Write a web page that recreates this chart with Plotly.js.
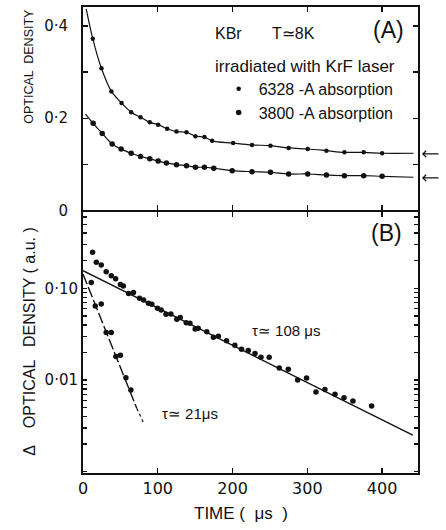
<!DOCTYPE html>
<html>
<head>
<meta charset="utf-8">
<script src="https://cdn.plot.ly/plotly-3.0.1.min.js"></script>
<style>html,body{margin:0;padding:0;background:#fff;}#chart{width:446px;height:530px;}</style>
</head>
<body>
<div id="chart"></div>
<script>
// ---------- Panel A : optical density vs time ----------
// 6328-A absorption (measured points)
const t6328 = [13.1, 24.7, 38, 51.5, 64.4, 76.9, 89.3, 100.5, 112.5, 125, 138.4, 150.4, 162.4, 172.7, 200.8, 226, 250.7, 275, 300.5, 325.5, 349.6, 375.4, 400];
const od6328 = [0.372, 0.308, 0.258, 0.233, 0.213, 0.202, 0.191, 0.186, 0.177, 0.171, 0.1695, 0.161, 0.159, 0.151, 0.146, 0.142, 0.1405, 0.1355, 0.1333, 0.1297, 0.126, 0.126, 0.124];
// curve ends
const curve6328Start = [4.3, 0.437];
const curve6328End = [442, 0.124];

// 3800-A absorption (measured points)
const t3800 = [13.6, 25.7, 39, 51, 64.4, 76.9, 89.3, 100.5, 111.6, 125, 138.4, 150.4, 162.4, 174.9, 199.5, 226, 250.7, 275, 300.5, 325.5, 349.6, 375.4, 400];
const od3800 = [0.189, 0.167, 0.144, 0.133, 0.124, 0.117, 0.112, 0.107, 0.103, 0.0993, 0.0971, 0.0937, 0.0937, 0.0915, 0.0863, 0.0841, 0.0828, 0.0791, 0.0791, 0.077, 0.0755, 0.0755, 0.0741];
const curve3800Start = [3.3, 0.209];
const curve3800End = [442, 0.072];

// asymptote arrows (OD values pointed at)
const arrowOD = [0.1225, 0.0705];

// ---------- Panel B : delta optical density (log) ----------
const tSlow = [12.8, 17.8, 24.4, 31, 37.8, 43.6, 50, 54, 61, 67.5, 75.6, 81, 87.6, 92, 99.6, 104.5, 111, 117.5, 125.5, 130, 138, 143, 150, 154, 165.5, 174.4, 181, 192, 203, 212, 221, 230, 238, 249, 262.5, 274.5, 287, 299, 311.5, 323.5, 337, 349, 361, 386];
const odSlow = [0.247, 0.192, 0.180, 0.152, 0.137, 0.127, 0.110, 0.106, 0.088, 0.090, 0.078, 0.0745, 0.0686, 0.067, 0.0605, 0.058, 0.052, 0.0524, 0.046, 0.048, 0.042, 0.0415, 0.036, 0.0366, 0.0336, 0.0292, 0.030, 0.0268, 0.024, 0.0216, 0.021, 0.0195, 0.0177, 0.0177, 0.0135, 0.0131, 0.0100, 0.0105, 0.0074, 0.0079, 0.0070, 0.0064, 0.0059, 0.0052];
const tFast = [11, 16.4, 24.4, 31, 37.8, 44, 50, 57.4, 64];
const odFast = [0.116, 0.064, 0.0675, 0.033, 0.033, 0.018, 0.0186, 0.0106, 0.0078];

// fitted exponentials (end points)
const slowFitT = [0, 441];
const slowFitOD = [0.156, 0.0025];
const fastFitT = [0, 72];
const fastFitOD = [0.143, 0.0049];
const fastDotT = [72, 81];
const fastDotOD = [0.0049, 0.0034];

// ---------- ticks ----------
const xTickVals = [0, 100, 200, 300, 400];
const xTickText = ['0', '100', '200', '300', '400'];
const aTickVals = [0, 0.1, 0.2, 0.3, 0.4];
const aTickText = ['0', '', '0·2', '', '0·4'];
const bTickVals = [0.001,0.002,0.003,0.004,0.005,0.006,0.007,0.008,0.009,
                   0.01,0.02,0.03,0.04,0.05,0.06,0.07,0.08,0.09,
                   0.1,0.2,0.3,0.4,0.5,0.6];
const bTickText = bTickVals.map(v => v === 0.01 ? '0·01' : (v === 0.1 ? '0·10' : ''));

const labels = {
  seriesA1: '6328 -A absorption',
  seriesA2: '3800 -A absorption',
  yA: 'OPTICAL  DENSITY',
  yB: 'Δ    OPTICAL   DENSITY ( a.u. )',
  x: 'TIME (  μs  )',
  sample: 'KBr',
  temp: 'T≃8K',
  irr: 'irradiated with KrF laser',
  panelA: '(A)',
  panelB: '(B)',
  tauSlow: 'τ≃ 108 μs',
  tauFast: 'τ≃ 21μs'
};

const BLACK = '#111111';
const FONT = 'Liberation Sans, Arial, sans-serif';
const H = 466;              // plot-area height in px
const SPLIT = 0.5612;       // boundary between the two panels (paper fraction)

const traces = [
  // Panel A curves
  {x: [curve6328Start[0]].concat(t6328, [curve6328End[0]]),
   y: [curve6328Start[1]].concat(od6328, [curve6328End[1]]),
   xaxis: 'x2', yaxis: 'y2', mode: 'lines', line: {color: BLACK, width: 1.2, shape: 'spline'},
   showlegend: false, hoverinfo: 'skip'},
  {x: [curve3800Start[0]].concat(t3800, [curve3800End[0]]),
   y: [curve3800Start[1]].concat(od3800, [curve3800End[1]]),
   xaxis: 'x2', yaxis: 'y2', mode: 'lines', line: {color: BLACK, width: 1.2, shape: 'spline'},
   showlegend: false, hoverinfo: 'skip'},
  {x: t6328, y: od6328, xaxis: 'x2', yaxis: 'y2', mode: 'markers', name: labels.seriesA1,
   marker: {color: BLACK, size: 4.5}},
  {x: t3800, y: od3800, xaxis: 'x2', yaxis: 'y2', mode: 'markers', name: labels.seriesA2,
   marker: {color: BLACK, size: 5.5}},
  // Panel B
  {x: slowFitT, y: slowFitOD, xaxis: 'x', yaxis: 'y', mode: 'lines',
   line: {color: BLACK, width: 1.4}, showlegend: false},
  {x: fastFitT, y: fastFitOD, xaxis: 'x', yaxis: 'y', mode: 'lines',
   line: {color: BLACK, width: 1.4, dash: '11px,3px'}, showlegend: false},
  {x: fastDotT, y: fastDotOD, xaxis: 'x', yaxis: 'y', mode: 'lines',
   line: {color: BLACK, width: 1.2, dash: 'dot'}, showlegend: false},
  {x: tSlow, y: odSlow, xaxis: 'x', yaxis: 'y', mode: 'markers',
   marker: {color: BLACK, size: 5.5}, showlegend: false},
  {x: tFast, y: odFast, xaxis: 'x', yaxis: 'y', mode: 'markers',
   marker: {color: BLACK, size: 5.5}, showlegend: false}
];

const axisCommon = {
  showline: true, linecolor: BLACK, linewidth: 2, mirror: 'allticks',
  ticks: 'inside', ticklen: 5, tickwidth: 1.4, tickcolor: BLACK,
  showgrid: false, zeroline: false, fixedrange: true
};

const layout = {
  width: 446, height: 530,
  margin: {l: 83, r: 28, t: 7, b: 57, pad: 0},
  paper_bgcolor: '#ffffff', plot_bgcolor: '#ffffff',
  font: {family: FONT, color: BLACK},
  showlegend: true,
  legend: {x: 0.405, xanchor: 'left', y: 0.861, yanchor: 'top',
           bgcolor: 'rgba(0,0,0,0)', borderwidth: 0,
           font: {family: FONT, size: 16, color: BLACK}, tracegroupgap: 0},
  xaxis: Object.assign({}, axisCommon, {
    domain: [0, 1], anchor: 'y', range: [0, 448],
    tickmode: 'array', tickvals: xTickVals, ticktext: xTickText,
    tickfont: {family: 'DejaVu Sans, sans-serif', size: 16, color: BLACK}
  }),
  yaxis: Object.assign({}, axisCommon, {
    domain: [0, SPLIT - 1 / H], anchor: 'x', type: 'log', range: [-3.014, -0.173],
    tickmode: 'array', tickvals: bTickVals, ticktext: bTickText, ticklen: 4,
    tickfont: {family: 'DejaVu Sans, sans-serif', size: 15, color: BLACK}
  }),
  xaxis2: Object.assign({}, axisCommon, {
    domain: [0, 1], anchor: 'y2', range: [0, 448], matches: 'x',
    tickmode: 'array', tickvals: xTickVals, showticklabels: false
  }),
  yaxis2: Object.assign({}, axisCommon, {
    domain: [SPLIT + 1 / H, 1], anchor: 'x2', range: [0, 0.441],
    tickmode: 'array', tickvals: aTickVals, ticktext: aTickText, ticklabelstandoff: 10,
    tickfont: {family: 'DejaVu Sans, sans-serif', size: 15, color: BLACK}
  }),
  annotations: [
    {xref: 'paper', yref: 'paper', x: -0.162, y: (473 - 66) / H, text: labels.yA, textangle: -90,
     showarrow: false, font: {family: FONT, size: 12.5, color: BLACK}, xanchor: 'center', yanchor: 'middle'},
    {xref: 'paper', yref: 'paper', x: -0.162, y: (473 - 341) / H, text: labels.yB, textangle: -90,
     showarrow: false, font: {family: FONT, size: 16, color: BLACK}, xanchor: 'center', yanchor: 'middle'},
    {xref: 'paper', yref: 'paper', x: 0.4716, y: -0.086, text: labels.x,
     showarrow: false, font: {family: FONT, size: 17, color: BLACK}, xanchor: 'center', yanchor: 'middle'},
    {xref: 'paper', yref: 'paper', x: (228 - 83) / 335, y: (473 - 33) / H, text: labels.sample,
     showarrow: false, font: {family: FONT, size: 16, color: BLACK}, xanchor: 'center', yanchor: 'middle'},
    {xref: 'paper', yref: 'paper', x: (293 - 83) / 335, y: (473 - 33) / H, text: labels.temp,
     showarrow: false, font: {family: FONT, size: 16, color: BLACK}, xanchor: 'center', yanchor: 'middle'},
    {xref: 'paper', yref: 'paper', x: (388 - 83) / 335, y: (473 - 30) / H, text: labels.panelA,
     showarrow: false, font: {family: FONT, size: 23, color: BLACK}, xanchor: 'center', yanchor: 'middle'},
    {xref: 'paper', yref: 'paper', x: (305 - 83) / 335, y: (473 - 66) / H, text: labels.irr,
     showarrow: false, font: {family: FONT, size: 17, color: BLACK}, xanchor: 'center', yanchor: 'middle'},
    {xref: 'paper', yref: 'paper', x: (386 - 83) / 335, y: (473 - 233) / H, text: labels.panelB,
     showarrow: false, font: {family: FONT, size: 23, color: BLACK}, xanchor: 'center', yanchor: 'middle'},
    {xref: 'paper', yref: 'paper', x: (286 - 83) / 335, y: (473 - 330) / H, text: labels.tauSlow,
     showarrow: false, font: {family: FONT, size: 15, color: BLACK}, xanchor: 'center', yanchor: 'middle'},
    {xref: 'paper', yref: 'paper', x: (190 - 83) / 335, y: (473 - 413) / H, text: labels.tauFast,
     showarrow: false, font: {family: FONT, size: 15, color: BLACK}, xanchor: 'center', yanchor: 'middle'},
    // asymptote arrows
    {xref: 'paper', yref: 'y2', x: (422 - 83) / 335, y: arrowOD[0], ax: 18, ay: 0, text: '',
     showarrow: true, arrowhead: 4, arrowsize: 1, arrowwidth: 1.2, arrowcolor: BLACK, standoff: 0},
    {xref: 'paper', yref: 'y2', x: (422 - 83) / 335, y: arrowOD[1], ax: 18, ay: 0, text: '',
     showarrow: true, arrowhead: 4, arrowsize: 1, arrowwidth: 1.2, arrowcolor: BLACK, standoff: 0}
  ]
};

Plotly.newPlot('chart', traces, layout, {staticPlot: true, displayModeBar: false});
</script>
</body>
</html>
